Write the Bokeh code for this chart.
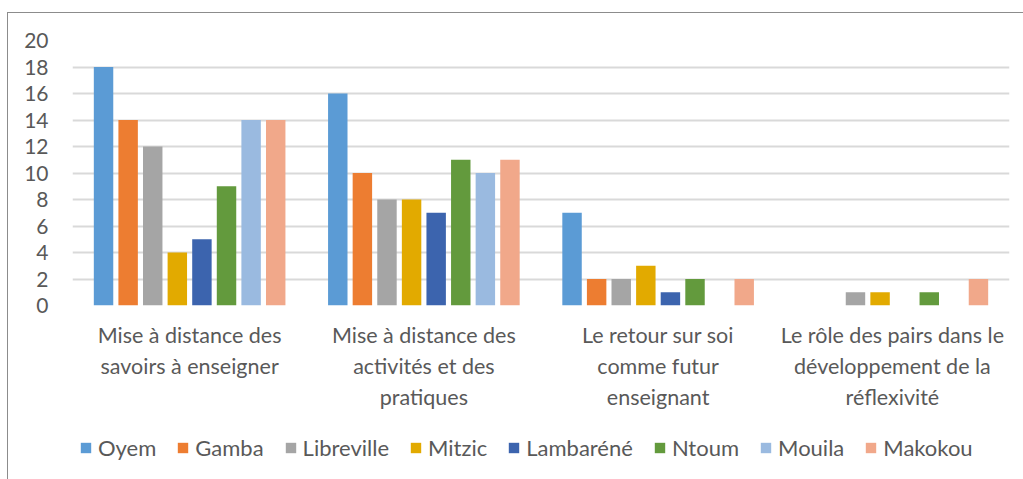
from bokeh.plotting import figure
from bokeh.models import ColumnDataSource, Legend, LegendItem, FactorRange
from bokeh.layouts import column
from bokeh.transform import dodge
from bokeh.embed import file_html
from bokeh.resources import INLINE

categories = [
    "Mise à distance des\nsavoirs à enseigner",
    "Mise à distance des\nactivités et des\npratiques",
    "Le retour sur soi\ncomme futur\nenseignant",
    "Le rôle des pairs dans le\ndéveloppement de la\nréflexivité",
]
series_names = ["Oyem", "Gamba", "Libreville", "Mitzic", "Lambaréné", "Ntoum", "Mouila", "Makokou"]
oyem = [18, 16, 7, 0]
gamba = [14, 10, 2, 0]
libreville = [12, 8, 2, 1]
mitzic = [4, 8, 3, 1]
lambarene = [5, 7, 1, 0]
ntoum = [9, 11, 2, 1]
mouila = [14, 10, 0, 0]
makokou = [14, 11, 2, 2]
y_ticks = [0, 2, 4, 6, 8, 10, 12, 14, 16, 18, 20]

colors = ["#5B9BD5", "#ED7D31", "#A5A5A5", "#E2AA00", "#3C64AE", "#639A3D", "#9ABAE0", "#F1A88A"]
values = [oyem, gamba, libreville, mitzic, lambarene, ntoum, mouila, makokou]

data = {"cat": categories}
for name, vals in zip(series_names, values):
    data[name] = vals
source = ColumnDataSource(data)

FONT = "Lato"
TXT = "#595959"

p = figure(
    x_range=FactorRange(*categories, range_padding=0),
    y_range=(0, 20),
    width=1015, height=408,
    output_backend="svg", toolbar_location=None,
    min_border_left=64, min_border_right=14, min_border_top=27, min_border_bottom=116,
)
p.x_range.range_padding = 0

step = 0.105
bw = 0.083
for i, (name, col) in enumerate(zip(series_names, colors)):
    p.vbar(x=dodge("cat", (i - 3.5) * step, range=p.x_range), top=name, width=bw,
           source=source, fill_color=col, line_color=None)

p.outline_line_color = None
p.background_fill_color = "white"
p.border_fill_color = "white"

p.xgrid.grid_line_color = None
p.ygrid.grid_line_color = "#D9D9D9"
p.ygrid.grid_line_width = 2
p.yaxis.ticker = y_ticks

for ax in (p.xaxis[0], p.yaxis[0]):
    ax.axis_line_color = None
    ax.major_tick_line_color = None
    ax.minor_tick_line_color = None
    ax.major_tick_out = 0
    ax.major_tick_in = 0
    ax.major_label_text_font = FONT
    ax.major_label_text_color = TXT

p.yaxis.major_label_text_font_size = "21px"
p.yaxis.major_label_standoff = 24
p.xaxis.major_label_text_font_size = "21.5px"
p.xaxis.major_label_standoff = 16
p.xaxis.major_label_orientation = "horizontal"

# legend strip below the chart (its swatches come from the same data, drawn off-view)
lg = figure(width=1015, height=58, output_backend="svg", toolbar_location=None,
            x_range=FactorRange(*categories), y_range=(1000, 1001),
            min_border_left=0, min_border_right=0, min_border_top=0, min_border_bottom=0)
lg.axis.visible = False
lg.grid.visible = False
lg.outline_line_color = None
lg.border_fill_color = "white"
items = []
for name, col in zip(series_names, colors):
    r = lg.vbar(x="cat", top=name, width=0.1, source=source, fill_color=col, line_color=None)
    items.append(LegendItem(label=name, renderers=[r]))

legend = Legend(items=items, orientation="horizontal", location=(7, 18))
legend.label_text_font = FONT
legend.label_text_font_size = "22px"
legend.label_text_color = TXT
legend.glyph_width = 13
legend.glyph_height = 13
legend.label_standoff = 6
legend.spacing = 20
legend.padding = 0
legend.margin = 0
legend.border_line_color = None
legend.background_fill_alpha = 0
lg.add_layout(legend, "center")

layout = column(p, lg, spacing=0)
layout.styles = {"border-top": "1px solid #8C8C8C", "border-left": "1px solid #8C8C8C",
                 "margin-left": "7px", "margin-top": "12px"}

open("out.html", "w").write(file_html(layout, INLINE))
